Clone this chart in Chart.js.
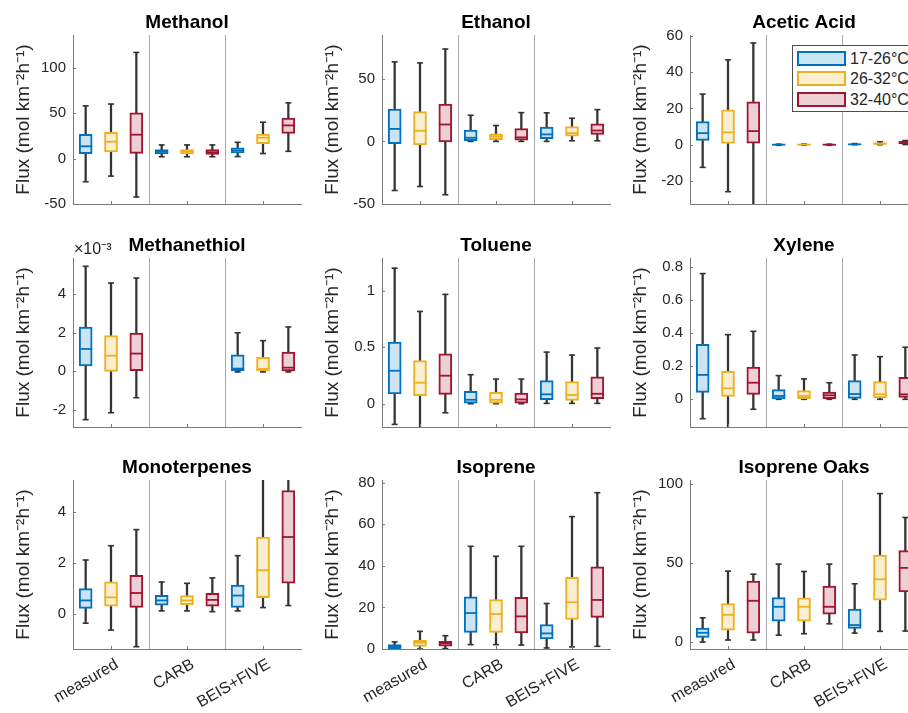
<!DOCTYPE html>
<html>
<head>
<meta charset="utf-8">
<script src="https://cdn.jsdelivr.net/npm/chart.js@4"></script>
<style>
  html, body { margin: 0; padding: 0; background: #fff; overflow: hidden; width: 908px; height: 713px; position: relative; }
  canvas { position: absolute; }
  #legend { position: absolute; left: 792px; top: 45px; width: 130px; height: 65px; border: 1px solid #4d4d4d; background: #fff;
            font-family: 'Liberation Sans', Arial, Helvetica, sans-serif; font-size: 16px; color: #262626; }
  #legend .patch { position: absolute; left: 4px; width: 49px; height: 15px; box-sizing: border-box; border: 2px solid; }
  #legend .lbl { position: absolute; left: 57px; height: 15px; line-height: 15px; white-space: nowrap; }
</style>
</head>
<body>
<script>
// ---------------- data ----------------
const groups = ['measured', 'CARB', 'BEIS+FIVE'];
const tempRanges = ['17-26°C', '26-32°C', '32-40°C'];

// Each row: [whisker low, Q1, median, Q3, whisker high]
// Row order: measured (17-26, 26-32, 32-40), CARB (...), BEIS+FIVE (...)
const methanol = [
  [-25.5, 5.5, 13.5, 26.6, 58], [-19.3, 7.3, 18.6, 28.8, 60], [-42.3, 5.8, 26.3, 50.4, 116.8],
  [2, 5, 7.5, 10, 15], [2, 5, 7.5, 10, 15], [2, 4.5, 7, 10, 15],
  [2.2, 6.2, 9, 11.7, 17.9], [5.5, 16.4, 23, 27, 40], [8, 27.7, 36.5, 44.5, 61.3]
];
const ethanol = [
  [-39.2, -1.9, 10, 25.9, 63.5], [-36, -2.9, 8.5, 23.8, 62.7], [-42.6, -0.5, 13.5, 29.9, 73.8],
  [0, 0.5, 2.9, 9, 20.9], [0, 1.3, 4, 6.1, 12.7], [0, 1, 3.2, 10.3, 23],
  [0, 2.1, 5.6, 11.4, 22.8], [0.5, 4.2, 6.6, 11.9, 18.5], [0.5, 5.6, 8.7, 14, 25.4]
];
const aceticAcid = [
  [-12.5, 2.4, 6.4, 12.7, 27.9], [-25.9, 0.7, 6.8, 19.3, 46.8], [-36, 0.9, 7.5, 23.7, 56.1],
  [-0.3, -0.15, 0, 0.15, 0.3], [-0.3, -0.15, 0, 0.15, 0.3], [-0.3, -0.15, 0, 0.15, 0.3],
  [0, 0.05, 0.2, 0.35, 0.6], [0, 0.2, 0.6, 1.0, 1.6], [0.1, 0.5, 1.1, 1.8, 2.3]
];
const methanethiol = [
  [-2.51e-3, 0.28e-3, 1.16e-3, 2.3e-3, 5.45e-3], [-2.15e-3, 0, 0.81e-3, 1.85e-3, 4.58e-3], [-1.37e-3, 0.03e-3, 0.92e-3, 1.99e-3, 4.84e-3],
  null, null, null,
  [-0.03e-3, 0.03e-3, 0.14e-3, 0.85e-3, 2.0e-3], [-0.03e-3, 0.03e-3, 0.12e-3, 0.73e-3, 1.59e-3], [-0.03e-3, 0.02e-3, 0.19e-3, 1.0e-3, 2.3e-3]
];
const toluene = [
  [-0.183, 0.086, 0.292, 0.546, 1.2], [-0.25, 0.071, 0.186, 0.381, 0.817], [-0.08, 0.083, 0.248, 0.442, 0.968],
  [0, 0.006, 0.035, 0.109, 0.257], [0, 0.006, 0.035, 0.1, 0.218], [0, 0.006, 0.038, 0.094, 0.218],
  [0.003, 0.035, 0.083, 0.204, 0.457], [0.003, 0.03, 0.077, 0.195, 0.431], [0.003, 0.044, 0.088, 0.239, 0.493]
];
const xylene = [
  [-0.117, 0.042, 0.147, 0.332, 0.758], [-0.18, 0.018, 0.066, 0.169, 0.39], [-0.06, 0.03, 0.1, 0.195, 0.41],
  [0, 0.002, 0.02, 0.058, 0.143], [0, 0.004, 0.02, 0.052, 0.123], [0, 0.004, 0.024, 0.044, 0.10],
  [0, 0.006, 0.032, 0.113, 0.267], [0, 0.008, 0.03, 0.107, 0.257], [0, 0.012, 0.03, 0.133, 0.314]
];
const monoterpenes = [
  [-0.36, 0.22, 0.53, 0.99, 2.11], [-0.63, 0.31, 0.65, 1.26, 2.67], [-1.28, 0.26, 0.82, 1.51, 3.3],
  [0.12, 0.34, 0.53, 0.73, 1.25], [0.12, 0.36, 0.53, 0.72, 1.2], [0.09, 0.31, 0.55, 0.81, 1.41],
  [0.12, 0.26, 0.72, 1.13, 2.28], [0.25, 0.64, 1.71, 3.01, 6.5], [0.33, 1.2, 3.01, 4.83, 7.5]
];
const isoprene = [
  [0, 0.2, 1.1, 2.1, 3.4], [0, 1.3, 3.0, 4.2, 8.5], [0.2, 1.4, 2.7, 3.7, 6.4],
  [2.1, 8, 17.3, 25.1, 49.4], [2.1, 8, 16.8, 23.8, 44.6], [1.9, 7.7, 15.7, 24.9, 49.4],
  [0.5, 4.8, 7.5, 11.8, 21.9], [1, 14.2, 22.5, 34.5, 63.7], [1.3, 15.2, 23.6, 39.5, 75.2]
];
const isopreneOaks = [
  [-0.2, 2.7, 5.7, 8.7, 15.2], [1.1, 7.4, 17.1, 24.3, 44.8], [1.1, 5.5, 26, 38.5, 42.9],
  [4.2, 13.1, 22.2, 28.1, 49.3], [5.1, 13.1, 22.2, 27.9, 44.6], [11.4, 17.5, 22.2, 35.3, 49.3],
  [5.5, 8.5, 10.6, 20.7, 36.8], [6.6, 26.4, 39.7, 55, 94.1], [6.8, 31.7, 46.9, 57.9, 78.9]
];

// y tick values and axis limits
const methanolTicks = [-50, 0, 50, 100];
const ethanolTicks = [-50, 0, 50];
const aceticTicks = [-20, 0, 20, 40, 60];
const methanethiolTicks = [-2e-3, 0, 2e-3, 4e-3];
const tolueneTicks = [0, 0.5, 1];
const xyleneTicks = [0, 0.2, 0.4, 0.6, 0.8];
const monoTicks = [0, 2, 4];
const isopreneTicks = [0, 20, 40, 60, 80];
const oaksTicks = [0, 50, 100];

const titles = ['Methanol', 'Ethanol', 'Acetic Acid', 'Methanethiol', 'Toluene', 'Xylene', 'Monoterpenes', 'Isoprene', 'Isoprene Oaks'];
const allStats = [methanol, ethanol, aceticAcid, methanethiol, toluene, xylene, monoterpenes, isoprene, isopreneOaks];
const allTicks = [methanolTicks, ethanolTicks, aceticTicks, methanethiolTicks, tolueneTicks, xyleneTicks, monoTicks, isopreneTicks, oaksTicks];
const yMins = [-50, -50, -32.7, -2.89e-3, -0.206, -0.167, -1.37, 0, -4.6];
const yMaxs = [136, 85, 60.5, 5.88e-3, 1.29, 0.852, 5.24, 81.3, 102.7];

// ---------------- styling ----------------
const FONT = "'Liberation Sans', Arial, Helvetica, sans-serif";
const edgeColors = ['#0072BD', '#EDB120', '#A2142F'];
const fillColors = ['#cce3f2', '#fbefd2', '#ecd0d5'];
const whiskerColor = '#333333';
const axisColor = '#7a7a7a';
const sepColor = '#a8a8a8';
const textColor = '#262626';

const COL_LEFT = [73, 382, 690];
const ROW_TOP = [35, 258, 480];
const PLOT_W = 228, PLOT_H = 169, AXIS_W = 70, TOP_H = 30, RIGHT_PAD = 12;

Chart.defaults.font.family = FONT;
Chart.defaults.color = textColor;

const decor = {
  id: 'decor',
  beforeDatasetsDraw(chart) {
    const { ctx, chartArea: a, scales: { x } } = chart;
    ctx.save();
    ctx.strokeStyle = sepColor;
    ctx.lineWidth = 1;
    [3, 6].forEach(i => {
      const px = Math.round((x.getPixelForValue(i - 1) + x.getPixelForValue(i)) / 2) + 0.5;
      ctx.beginPath(); ctx.moveTo(px, a.top); ctx.lineTo(px, a.bottom); ctx.stroke();
    });
    ctx.restore();
  },
  afterDraw(chart, args, opts) {
    const { ctx, chartArea: a, scales: { x, y } } = chart;
    ctx.save();
    ctx.strokeStyle = axisColor;
    ctx.lineWidth = 1;
    y.ticks.forEach(t => {
      const py = Math.round(y.getPixelForValue(t.value)) + 0.5;
      ctx.beginPath(); ctx.moveTo(a.left, py); ctx.lineTo(a.left + 3, py); ctx.stroke();
    });
    [1, 4, 7].forEach(i => {
      const px = Math.round(x.getPixelForValue(i)) + 0.5;
      ctx.beginPath(); ctx.moveTo(px, a.bottom); ctx.lineTo(px, a.bottom - 3); ctx.stroke();
    });
    if (opts && opts.exponent) {
      ctx.fillStyle = textColor;
      ctx.font = '16px ' + FONT;
      ctx.textAlign = 'left';
      ctx.textBaseline = 'alphabetic';
      ctx.fillText(opts.exponent, a.left + 1, a.top - 4);
    }
    ctx.restore();
  }
};

const catLabels = [];
for (let i = 0; i < 9; i++) catLabels.push(groups[Math.floor(i / 3)] + ' ' + tempRanges[i % 3]);

function buildDatasets(stats) {
  const ds = [];
  // whiskers (drawn underneath)
  ds.push({
    type: 'bar', label: 'whisker', order: 4, grouped: false, clip: 0,
    data: stats.map(s => s ? [s[0], s[4]] : null),
    backgroundColor: whiskerColor, borderWidth: 0, barThickness: 1.6
  });
  // caps
  [0, 4].forEach(k => ds.push({
    type: 'line', label: 'cap', order: 3, showLine: false, clip: 0,
    data: stats.map(s => s ? s[k] : null),
    pointStyle: 'line', pointRadius: 3, pointBorderWidth: 1.6,
    pointBorderColor: whiskerColor, borderColor: whiskerColor
  }));
  // boxes, one dataset per temperature range
  tempRanges.forEach((name, t) => ds.push({
    type: 'bar', label: name, order: 2, grouped: false, clip: 0,
    data: stats.map((s, i) => (s && i % 3 === t) ? [s[1], s[3]] : null),
    backgroundColor: fillColors[t], borderColor: edgeColors[t],
    borderWidth: 2, borderSkipped: false, barThickness: 13
  }));
  // medians
  ds.push({
    type: 'line', label: 'median', order: 1, showLine: false, clip: 0,
    data: stats.map(s => s ? s[2] : null),
    pointStyle: 'line', pointRadius: 6.5, pointBorderWidth: 1.8,
    pointBorderColor: stats.map((s, i) => edgeColors[i % 3]), borderColor: edgeColors[0]
  });
  return ds;
}

function fmt(v, scaleK) {
  const r = Math.round(v * scaleK * 1000) / 1000;
  return String(r);
}

for (let p = 0; p < 9; p++) {
  const row = Math.floor(p / 3), col = p % 3;
  const bottomRow = row === 2;
  const xH = bottomRow ? 64 : 4;
  const cv = document.createElement('canvas');
  const W = AXIS_W + PLOT_W + RIGHT_PAD;
  const H = TOP_H + PLOT_H + xH;
  cv.width = W; cv.height = H;
  cv.style.left = (COL_LEFT[col] - AXIS_W) + 'px';
  cv.style.top = (ROW_TOP[row] - TOP_H) + 'px';
  cv.style.width = W + 'px'; cv.style.height = H + 'px';
  document.body.appendChild(cv);

  const tickVals = allTicks[p];
  const k = p === 3 ? 1000 : 1;

  new Chart(cv, {
    type: 'bar',
    data: { labels: catLabels, datasets: buildDatasets(allStats[p]) },
    plugins: [decor],
    options: {
      responsive: false,
      animation: false,
      events: [],
      devicePixelRatio: 1,
      layout: { autoPadding: false, padding: { top: 6, left: 0, right: RIGHT_PAD, bottom: 0 } },
      plugins: {
        legend: { display: false },
        tooltip: { enabled: false },
        title: {
          display: true, text: titles[p], fullSize: false,
          font: { size: 19, weight: 'bold', lineHeight: 1.2 }, color: '#000',
          padding: { top: 0, bottom: 1.2 }
        },
        decor: { exponent: p === 3 ? '×10⁻³' : '' }
      },
      scales: {
        x: {
          type: 'category', offset: true,
          grid: { display: false, drawTicks: false },
          border: { display: true, color: axisColor, width: 1 },
          ticks: {
            display: bottomRow, autoSkip: false, maxRotation: 30, minRotation: 30,
            padding: 6, labelOffset: 6, font: { size: 16 }, color: textColor,
            callback: (v, i) => (i % 3 === 1 ? groups[Math.floor(i / 3)] : '')
          },
          afterFit: s => { s.height = xH; s.paddingLeft = 0; s.paddingRight = 0; }
        },
        y: {
          type: 'linear', min: yMins[p], max: yMaxs[p],
          grid: { display: false, drawTicks: false },
          border: { display: true, color: axisColor, width: 1 },
          afterBuildTicks: s => { s.ticks = tickVals.map(v => ({ value: v })); },
          ticks: { padding: 7, font: { size: 15 }, color: textColor, callback: v => fmt(v, k) },
          title: {
            display: true, text: 'Flux (mol km⁻²h⁻¹)', color: textColor,
            font: { size: 19, lineHeight: 1.2 }, padding: { top: 9, bottom: 0 }
          },
          afterFit: s => { s.width = AXIS_W; s.paddingTop = 0; s.paddingBottom = 0; }
        }
      }
    }
  });
}

// legend
const lg = document.createElement('div');
lg.id = 'legend';
const rowTops = [5, 25, 46];
tempRanges.forEach((name, t) => {
  const patch = document.createElement('div');
  patch.className = 'patch';
  patch.style.top = rowTops[t] + 'px';
  patch.style.background = fillColors[t];
  patch.style.borderColor = edgeColors[t];
  lg.appendChild(patch);
  const lbl = document.createElement('div');
  lbl.className = 'lbl';
  lbl.style.top = rowTops[t] + 'px';
  lbl.textContent = name;
  lg.appendChild(lbl);
});
document.body.appendChild(lg);
</script>
</body>
</html>
